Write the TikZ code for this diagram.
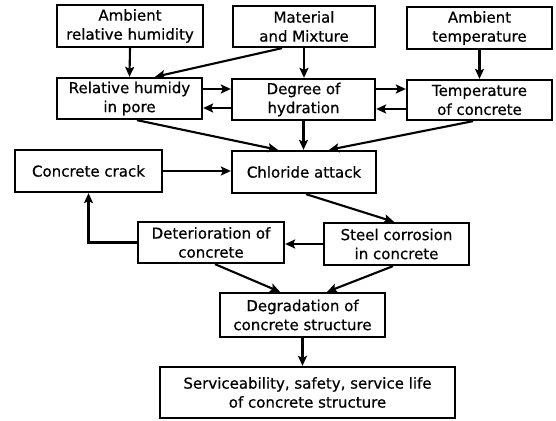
\documentclass[tikz,border=0pt]{standalone}
\usepackage{fontspec}
\setmainfont[FakeBold=0.6]{DejaVu Sans}
\usetikzlibrary{arrows.meta}
\begin{document}
\begin{tikzpicture}[x=1pt,y=-1pt,
  box/.style={draw, line width=2.3pt, inner sep=0pt, align=center,
    font=\fontsize{15}{19}\selectfont},
  arr/.style={line width=2.1pt, -{Stealth[length=10pt,width=9pt,inset=2pt]}}]
\fill[white] (0,0) rectangle (556,420);
\useasboundingbox (0,0) rectangle (556,420);
% row 1
\node[box, minimum width=146pt, minimum height=42pt] (arh) at (130,26) {Ambient\\relative humidity};
\node[box, minimum width=142pt, minimum height=41pt] (mm) at (304,26.5) {Material\\and Mixture};
\node[box, minimum width=145pt, minimum height=42pt] (at) at (479.5,28) {Ambient\\temperature};
% row 2
\node[box, minimum width=145pt, minimum height=41pt] (rhp) at (129.5,98.5) {Relative humidy\\in pore};
\node[box, minimum width=143pt, minimum height=41pt] (doh) at (303.5,99.5) {Degree of\\hydration};
\node[box, minimum width=145pt, minimum height=40pt] (toc) at (479.5,100) {Temperature\\of concrete};
% row 3
\node[box, minimum width=147pt, minimum height=42pt] (cc) at (88.5,171) {Concrete crack};
\node[box, minimum width=144pt, minimum height=42pt] (ca) at (304,172) {Chloride attack};
% row 4
\node[box, minimum width=146pt, minimum height=41pt] (dc) at (211,242.5) {Deterioration of\\concrete};
\node[box, minimum width=145pt, minimum height=42pt] (sc) at (396.5,244) {Steel corrosion\\in concrete};
% row 5
\node[box, minimum width=165pt, minimum height=44pt] (dcs) at (302.5,315) {Degradation of\\concrete structure};
\node[box, minimum width=295pt, minimum height=51pt] (svc) at (307.5,392.5) {Serviceability, safety, service life\\of concrete structure};
% connectors
\draw[arr] (arh.south) -- (rhp.north);
\draw[arr] ([xshift=-22pt]mm.south) -- ([xshift=25.5pt]rhp.north);
\draw[arr] (mm.south) -- (mm.south |- doh.north);
\draw[arr] (at.south) -- (toc.north);
\draw[arr] ([yshift=9.5pt]rhp.east) -- ([yshift=9.5pt]rhp.east -| doh.west);
\draw[arr] ([yshift=-8.5pt]doh.west) -- ([yshift=-8.5pt]doh.west -| rhp.east);
\draw[arr] ([yshift=10.5pt]doh.east) -- ([yshift=10.5pt]doh.east -| toc.west);
\draw[arr] ([yshift=-9pt]toc.west) -- ([yshift=-9pt]toc.west -| doh.east);
\draw[arr] ([xshift=7.5pt]rhp.south) -- ([xshift=-26pt]ca.north);
\draw[arr] (doh.south) -- (doh.south |- ca.north);
\draw[arr] ([xshift=-6.5pt]toc.south) -- ([xshift=25pt]ca.north);
\draw[arr] (cc.east) -- (cc.east -| ca.west);
\draw[arr] ([xshift=2pt]ca.south) -- ([xshift=-2.5pt]sc.north);
\draw[arr] (sc.west) -- (sc.west -| dc.east);
\draw[arr] (dc.west) -| (cc.south);
\draw[arr] ([xshift=4pt]dc.south) -- ([xshift=-22.5pt]dcs.north);
\draw[arr] ([xshift=-3.5pt]sc.south) -- ([xshift=24.5pt]dcs.north);
\draw[arr] (dcs.south) -- (dcs.south |- svc.north);
\end{tikzpicture}
\end{document}
